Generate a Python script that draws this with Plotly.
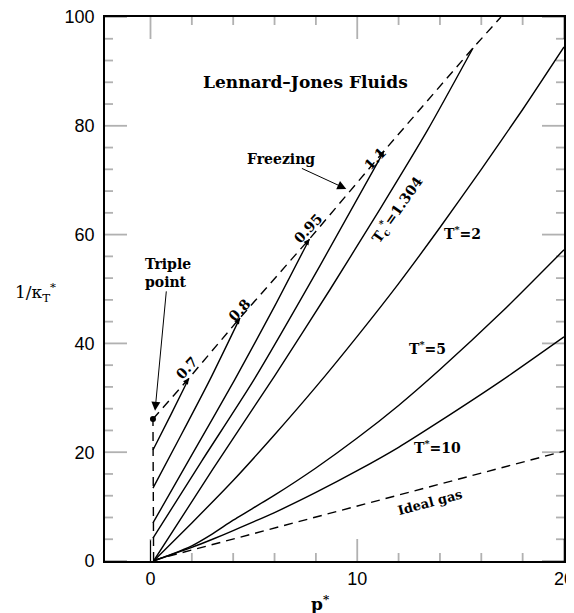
import plotly.graph_objects as go

# ---------------- data ----------------
p_T07 = [0.12, 1.0, 1.86]
y_T07 = [20.4, 27.0, 33.6]
p_T08 = [0.12, 1.5, 2.87, 4.33]
y_T08 = [13.4, 23.3, 33.3, 44.7]
p_T095 = [0.12, 2.0, 4.07, 6.0, 7.69]
y_T095 = [7.0, 19.5, 33.3, 46.8, 59.2]
p_T11 = [0.12, 2.5, 5.0, 8.2, 11.3]
y_T11 = [4.2, 18.5, 33.3, 54.3, 75.4]
p_Tc = [0.15, 3.0, 6.0, 8.7, 11.1, 13.4, 15.6]
y_Tc = [0.0, 16.8, 34.0, 50.0, 64.7, 79.2, 94.3]
p_T2 = [0.15, 2.0, 4.0, 6.0, 8.0, 10.0, 12.0, 14.0, 16.0, 18.0, 20.0]
y_T2 = [0.0, 7.0, 14.8, 23.2, 32.0, 41.3, 51.0, 61.3, 72.0, 83.0, 94.5]
p_T5 = [0.15, 1.0, 2.0, 3.0, 4.0, 6.0, 8.0, 10.0, 12.0, 14.0, 17.0, 20.0]
y_T5 = [0.0, 1.2, 2.8, 5.0, 7.5, 12.1, 17.1, 22.6, 28.6, 35.2, 45.8, 57.2]
p_T10 = [0.15, 1.0, 2.0, 3.0, 4.0, 6.0, 8.0, 10.0, 12.0, 14.0, 17.0, 20.0]
y_T10 = [0.0, 1.15, 2.5, 4.0, 5.6, 8.9, 12.6, 16.6, 20.9, 25.7, 33.2, 41.2]
p_ideal = [0.15, 20.0]
y_ideal = [0.15, 20.2]
p_freeze = [0.12, 1.86, 4.33, 7.69, 11.3, 15.6, 16.95]
y_freeze = [26.1, 33.6, 44.7, 59.2, 75.4, 94.3, 100.0]
p_coex = [0.15, 0.12]
y_coex = [0.0, 26.1]
p_stub = [0.0, 0.0]
y_stub = [0.0, 3.8]
p_triple = [0.12]
y_triple = [26.1]

x_range = [-2.2, 20]
y_range = [0, 100]
x_major = [0, 10, 20]
x_minor = [2, 4, 6, 8, 12, 14, 16, 18]
y_major = [0, 20, 40, 60, 80, 100]
y_minor = [4, 8, 12, 16, 24, 28, 32, 36, 44, 48, 52, 56, 64, 68, 72, 76, 84, 88, 92, 96]

SERIF = "DejaVu Serif"
SANS = "Liberation Sans"
LW = 1.4
TW = 1.8

# figure geometry (the page body adds an 8px offset)
W, H = 566, 605
ML, MR, MT, MB = 97, 10, 9, 52
PW, PH = W - ML - MR, H - MT - MB
MAJ_LEN, MIN_LEN = 22, 8

fig = go.Figure()

def solid(px, py):
    fig.add_trace(go.Scatter(x=px, y=py, mode="lines",
                             line=dict(color="black", width=LW, shape="spline", smoothing=0.6),
                             showlegend=False, hoverinfo="skip"))

def dashed(px, py):
    fig.add_trace(go.Scatter(x=px, y=py, mode="lines",
                             line=dict(color="black", width=LW, dash="9px,6px"),
                             showlegend=False, hoverinfo="skip"))

for px, py in [(p_T07, y_T07), (p_T08, y_T08), (p_T095, y_T095), (p_T11, y_T11),
               (p_Tc, y_Tc), (p_T2, y_T2), (p_T5, y_T5), (p_T10, y_T10)]:
    solid(px, py)
fig.add_trace(go.Scatter(x=p_stub, y=y_stub, mode="lines",
                         line=dict(color="black", width=1), showlegend=False, hoverinfo="skip"))
dashed(p_ideal, y_ideal)
dashed(p_freeze, y_freeze)
dashed(p_coex, y_coex)
fig.add_trace(go.Scatter(x=p_triple, y=y_triple, mode="markers",
                         marker=dict(color="black", size=6), showlegend=False, hoverinfo="skip"))

# inward tick marks on all four sides, placed at the tick values through the axes
shapes = []
tick_line = dict(color="black", width=TW)
for vals, length in [(x_major, MAJ_LEN), (x_minor, MIN_LEN)]:
    f = length / PH
    for v in vals:
        shapes.append(dict(type="line", xref="x", yref="paper", x0=v, x1=v, y0=0, y1=f,
                           line=tick_line, layer="above"))
        shapes.append(dict(type="line", xref="x", yref="paper", x0=v, x1=v, y0=1 - f, y1=1,
                           line=tick_line, layer="above"))
for vals, length in [(y_major, MAJ_LEN), (y_minor, MIN_LEN)]:
    f = length / PW
    for v in vals:
        shapes.append(dict(type="line", xref="paper", yref="y", x0=0, x1=f, y0=v, y1=v,
                           line=tick_line, layer="above"))
        shapes.append(dict(type="line", xref="paper", yref="y", x0=1 - f, x1=1, y0=v, y1=v,
                           line=tick_line, layer="above"))

ann = []
def label(text, x, y, angle=0, size=13):
    ann.append(dict(x=x, y=y, xref="x", yref="y", text=text, showarrow=False,
                    textangle=angle, font=dict(family=SERIF, size=size, color="black")))

label("<b>Lennard–Jones Fluids</b>", 7.5, 88.1, size=17)
label("<b>0.7</b>", 1.76, 35.4, -47, 14)
label("<b>0.8</b>", 4.3, 46.2, -47, 14)
label("<b>0.95</b>", 7.64, 61.2, -47, 14)
label("<b>1.1</b>", 10.85, 73.9, -47, 14)
label("<b>T<sub>c</sub><sup>*</sup>=1.304</b>", 11.93, 64.5, -55, 14)
label("<b>T<sup>*</sup>=2</b>", 15.1, 60.3, 0, 14)
label("<b>T<sup>*</sup>=5</b>", 13.4, 39.2, 0, 14)
label("<b>T<sup>*</sup>=10</b>", 13.9, 21.0, 0, 14)
label("<b>Ideal gas</b>", 13.5, 10.7, -15, 13)

# small arrowheads at the ends of the subcritical isotherms
for ex, ey in [(p_T07[-1], y_T07[-1]), (p_T08[-1], y_T08[-1]),
               (p_T095[-1], y_T095[-1]), (p_T11[-1], y_T11[-1])]:
    ann.append(dict(x=ex, y=ey, xref="x", yref="y", text="", showarrow=True,
                    ax=-5, ay=7, arrowhead=2, arrowsize=1.2, arrowwidth=1, arrowcolor="black"))

# callouts
ann.append(dict(x=9.47, y=68.4, xref="x", yref="y", text="<b>Freezing</b>",
                showarrow=True, ax=-65, ay=-30, arrowhead=2, arrowsize=1.8, arrowwidth=1,
                arrowcolor="black", font=dict(family=SERIF, size=14, color="black")))
ann.append(dict(x=0.22, y=27.6, xref="x", yref="y", text="<b>Triple<br>point</b>",
                showarrow=True, ax=13, ay=-138, arrowhead=2, arrowsize=1.8, arrowwidth=1,
                arrowcolor="black", align="left",
                font=dict(family=SERIF, size=14, color="black")))
ann.append(dict(x=0.3, y=-0.7, xref="x", yref="y", text="<b>p<sub>c</sub><sup>*</sup></b>",
                showarrow=True, ax=66, ay=18, arrowhead=2, arrowsize=1.8, arrowwidth=1,
                arrowcolor="black", font=dict(family=SERIF, size=15, color="black")))

# axis titles
ann.append(dict(x=8.2, y=-0.077, xref="x", yref="paper", text="<b>p<sup>*</sup></b>",
                xanchor="center", yanchor="middle",
                showarrow=False, font=dict(family=SERIF, size=17, color="black")))
ann.append(dict(x=-0.1525, y=49.3, xref="paper", yref="y", text="1/κ<sub>T</sub><sup>*</sup>",
                xanchor="center", yanchor="middle",
                showarrow=False, font=dict(family=SERIF, size=17, color="black")))

main_common = dict(ticks="", showline=True, linecolor="black", linewidth=1.8, mirror=True,
                   showgrid=False, zeroline=False, automargin=False,
                   ticklabeloverflow="allow",
                   tickfont=dict(family=SANS, size=18, color="black"))

fig.update_layout(
    template="simple_white",
    width=W, height=H,
    margin=dict(l=ML, r=MR, t=MT, b=MB),
    paper_bgcolor="white", plot_bgcolor="white",
    annotations=ann,
    shapes=shapes,
    xaxis=dict(range=x_range, tickmode="array", tickvals=x_major, **main_common),
    yaxis=dict(range=y_range, tickmode="array", tickvals=y_major, ticklabelstandoff=5,
               **main_common),
)

fig.write_html("out.html")
